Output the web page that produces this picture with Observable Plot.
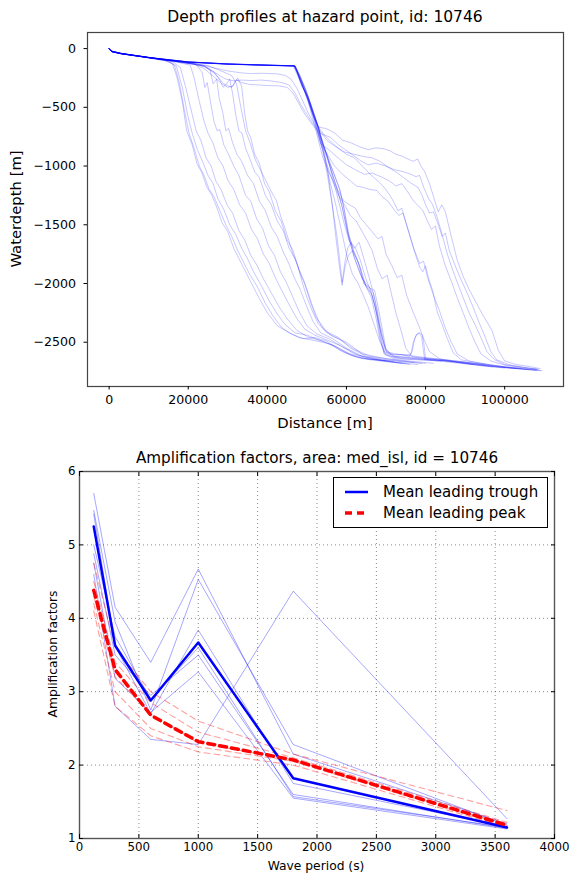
<!DOCTYPE html>
<html><head><meta charset="utf-8">
<script src="https://cdn.jsdelivr.net/npm/d3@7"></script>
<script src="https://cdn.jsdelivr.net/npm/@observablehq/plot@0.6"></script>
<style>
body{margin:0;background:#fff;}
#wrap{position:relative;width:570px;height:875px;font-family:"DejaVu Sans",sans-serif;color:#000;overflow:hidden;}
.abs{position:absolute;white-space:nowrap;line-height:1;transform:translate(-50%,-50%);}
.rot{transform:translate(-50%,-50%) rotate(-90deg);}
</style></head><body><div id="wrap"></div>
<script>
// ---------- Top chart: depth profiles (distance [m], depth [m]) ----------
const p01 = [[0,0],[600,-22],[3000,-42],[9000,-72],[14000,-100],[16000,-128],[17200,-250],[18500,-450],[19600,-700],[21000,-820],[22200,-980],[23500,-1060],[24700,-1180],[26000,-1250],[27200,-1350],[28500,-1480],[30000,-1560],[31500,-1700],[33000,-1800],[34500,-1900],[36000,-2000],[38000,-2130],[40000,-2250],[42500,-2360],[45000,-2410],[48000,-2460],[51000,-2480],[54000,-2500],[57000,-2530],[60000,-2590],[63000,-2630],[66000,-2645],[70000,-2660]];
const p02 = [[0,-5],[700,-28],[3000,-45],[9000,-75],[14500,-105],[16500,-140],[17800,-300],[19000,-520],[20200,-720],[21500,-850],[22800,-1000],[24000,-1080],[25300,-1200],[26500,-1260],[28000,-1380],[29500,-1500],[31000,-1600],[32500,-1720],[34000,-1820],[35500,-1920],[37500,-2030],[39500,-2170],[41500,-2280],[43500,-2370],[46000,-2430],[49000,-2470],[52000,-2460],[55000,-2490],[58000,-2560],[61000,-2610],[64000,-2640],[68000,-2650],[72000,-2665]];
const p03 = [[0,0],[500,-20],[3000,-40],[9000,-70],[15000,-105],[17000,-150],[18500,-330],[19800,-560],[21000,-720],[22300,-860],[23600,-960],[25000,-1080],[26300,-1150],[27500,-1280],[29000,-1370],[30500,-1500],[32000,-1580],[33500,-1700],[35000,-1790],[36500,-1900],[38500,-2020],[40500,-2150],[42500,-2260],[44500,-2350],[47000,-2420],[50000,-2440],[53000,-2480],[56000,-2520],[59000,-2580],[62000,-2620],[66000,-2650],[71000,-2670],[75000,-2680]];
const p04 = [[0,-3],[800,-30],[3000,-44],[10000,-78],[16000,-112],[18000,-160],[19500,-350],[21000,-560],[22000,-700],[23200,-780],[24500,-930],[25800,-1000],[27000,-1130],[28300,-1200],[29800,-1330],[31200,-1400],[32800,-1550],[34300,-1630],[35800,-1760],[37300,-1840],[39000,-1960],[41000,-2080],[43000,-2200],[45000,-2300],[47500,-2400],[50500,-2460],[54000,-2490],[57500,-2540],[61000,-2600],[65000,-2640],[70000,-2660],[76000,-2690]];
const p05 = [[0,0],[600,-24],[3000,-42],[10000,-76],[17000,-115],[20500,-140],[21500,-250],[22800,-450],[24000,-620],[25000,-720],[26200,-800],[27500,-930],[28800,-1000],[30000,-1120],[31500,-1200],[33000,-1330],[34500,-1400],[36000,-1540],[37500,-1620],[39000,-1750],[40500,-1830],[42000,-1950],[43500,-2050],[45500,-2180],[47500,-2300],[49500,-2390],[52000,-2440],[55000,-2480],[58500,-2530],[62000,-2600],[66000,-2640],[72000,-2670],[78000,-2690]];
const p06 = [[0,-4],[700,-26],[3000,-43],[10000,-78],[17000,-112],[22000,-135],[23500,-200],[24200,-330],[24800,-290],[25600,-450],[26500,-620],[27300,-700],[28000,-690],[29000,-820],[30200,-900],[31500,-1000],[32800,-1080],[34500,-1250],[35800,-1300],[37300,-1450],[38800,-1530],[40300,-1680],[41800,-1760],[43300,-1900],[44800,-1990],[46500,-2120],[48200,-2250],[50000,-2360],[52500,-2430],[55500,-2470],[59000,-2540],[63000,-2610],[68000,-2650],[74000,-2680]];
const p07 = [[0,0],[500,-20],[3000,-41],[10000,-76],[18000,-115],[24000,-145],[25500,-180],[26300,-300],[27200,-260],[27800,-420],[28700,-540],[29500,-700],[30200,-680],[31200,-800],[32300,-900],[33500,-960],[35000,-1080],[36500,-1150],[38000,-1300],[39500,-1380],[41000,-1520],[42500,-1600],[44000,-1730],[45300,-1820],[46800,-1950],[48300,-2050],[50000,-2200],[51500,-2320],[53500,-2420],[56500,-2470],[60000,-2550],[64000,-2620],[69000,-2650],[75000,-2670],[80000,-2680]];
const p08 = [[0,-2],[800,-28],[3000,-44],[10000,-77],[18000,-115],[24000,-150],[26500,-200],[28000,-270],[28800,-330],[29700,-300],[30500,-260],[31200,-380],[32000,-560],[32800,-700],[33600,-720],[34500,-850],[35500,-930],[36800,-1050],[38000,-1100],[39500,-1250],[41000,-1330],[42500,-1470],[44000,-1550],[45500,-1700],[47000,-1790],[48500,-1930],[50000,-2050],[51500,-2200],[53000,-2320],[55000,-2410],[58000,-2460],[61000,-2550],[65000,-2620],[70000,-2650],[77000,-2670]];
const p09 = [[0,0],[600,-22],[3000,-40],[10000,-75],[18000,-113],[24000,-150],[27000,-220],[29000,-300],[31000,-330],[32500,-250],[33500,-320],[34300,-560],[35000,-700],[35800,-760],[36800,-900],[38000,-980],[39300,-1150],[40500,-1220],[42000,-1380],[43500,-1470],[45000,-1630],[46500,-1720],[48000,-1880],[49300,-1980],[50800,-2150],[52200,-2280],[54000,-2380],[56500,-2450],[60000,-2500],[64000,-2600],[70000,-2640],[76000,-2660],[82000,-2680]];
const p10 = [[0,-4],[700,-26],[3000,-43],[10000,-76],[18000,-114],[25000,-145],[29000,-200],[31000,-230],[32200,-300],[33300,-500],[34500,-700],[35600,-800],[37000,-950],[38500,-1050],[40000,-1150],[41500,-1250],[42300,-1293],[43300,-1420],[44100,-1497],[45300,-1620],[46500,-1750],[47700,-1850],[48800,-1988],[50000,-2120],[51300,-2230],[52800,-2340],[55000,-2420],[58000,-2470],[62000,-2560],[66000,-2620],[72000,-2650],[79000,-2680]];
const b01 = [[0,0],[600,-24],[3000,-42],[10000,-76],[20000,-114],[30000,-131],[40000,-141],[47000,-147],[47800,-230],[48800,-330],[50400,-414],[51500,-560],[52900,-669],[54300,-830],[55900,-981],[57200,-1100],[58400,-1208],[59500,-1380],[60700,-1600],[62000,-1750],[63500,-1860],[64400,-2002],[66000,-2040],[67100,-2059],[68000,-2200],[69000,-2377],[69900,-2548],[71000,-2600],[75000,-2610],[80000,-2630],[85000,-2650],[90000,-2670],[95000,-2690],[100000,-2710],[104000,-2725],[108000,-2735]];
const b02 = [[0,-3],[800,-28],[3000,-44],[10000,-78],[20000,-116],[30000,-133],[40000,-143],[46800,-149],[47600,-200],[48500,-300],[50000,-400],[51200,-520],[52700,-660],[54000,-800],[55500,-950],[57000,-1080],[58200,-1190],[59200,-1330],[60300,-1550],[61600,-1700],[63000,-1820],[64000,-1960],[65500,-2020],[66800,-2080],[67800,-2250],[68700,-2450],[69600,-2580],[72000,-2620],[77000,-2630],[82000,-2640],[88000,-2660],[94000,-2690],[100000,-2715],[106000,-2735],[109000,-2742]];
const b03 = [[0,0],[500,-20],[3000,-40],[10000,-74],[20000,-113],[30000,-130],[40000,-140],[46500,-146],[47500,-220],[49000,-330],[51000,-470],[52900,-669],[54200,-850],[55300,-1050],[56300,-1300],[57300,-1600],[58200,-1850],[58900,-2016],[59700,-1850],[60500,-1760],[61500,-1720],[62500,-1780],[63800,-1900],[65000,-2030],[66300,-2120],[67500,-2300],[68500,-2480],[69500,-2590],[72000,-2630],[78000,-2640],[84000,-2655],[90000,-2670],[95000,-2690]];
const b04 = [[0,-4],[700,-26],[3000,-43],[10000,-77],[20000,-115],[30000,-132],[40000,-142],[47000,-148],[48000,-210],[49500,-330],[51200,-500],[52900,-669],[54800,-680],[56000,-700],[57300,-726],[59000,-780],[61000,-800],[63500,-839],[65500,-860],[67500,-845],[69400,-853],[71000,-870],[72500,-900],[74000,-915],[75300,-936],[76800,-960],[78000,-940],[78700,-993],[79800,-1050],[81000,-1150],[82000,-1260],[83200,-1390],[84100,-1330],[85000,-1390],[86500,-1600],[88000,-1800],[89500,-1940],[91000,-2050],[92500,-2145],[94500,-2270],[96800,-2400],[98400,-2570],[100000,-2660],[103000,-2690],[106000,-2705],[109000,-2725]];
const b05 = [[0,0],[600,-23],[3000,-42],[10000,-76],[20000,-114],[30000,-131],[40000,-141],[46800,-147],[48000,-230],[49800,-360],[51500,-530],[53300,-720],[54700,-740],[55900,-754],[58000,-820],[60500,-880],[63500,-953],[65500,-990],[67500,-975],[70000,-1000],[72000,-1030],[74000,-1045],[76100,-1067],[77500,-1090],[78500,-1080],[79500,-1180],[80800,-1280],[81800,-1330],[82900,-1434],[84000,-1560],[85500,-1750],[86800,-1880],[88000,-1990],[89500,-2120],[91000,-2250],[92500,-2350],[94000,-2460],[95500,-2580],[97500,-2650],[100000,-2690],[104000,-2710],[108500,-2730]];
const b06 = [[0,-2],[800,-28],[3000,-44],[10000,-78],[20000,-116],[30000,-133],[40000,-143],[47000,-149],[48300,-250],[50000,-400],[51800,-600],[53500,-811],[55500,-860],[57500,-920],[60000,-990],[62600,-1038],[64500,-1070],[66500,-1060],[69000,-1095],[71000,-1130],[72500,-1170],[74000,-1150],[75500,-1220],[77000,-1300],[78200,-1340],[79300,-1378],[80500,-1470],[81500,-1540],[82500,-1510],[83500,-1680],[85000,-1850],[86500,-1980],[88000,-2120],[89500,-2250],[91000,-2380],[92500,-2500],[94000,-2600],[96500,-2660],[100000,-2695],[105000,-2720],[108000,-2730]];
const b07 = [[0,0],[500,-20],[3000,-41],[10000,-75],[20000,-113],[30000,-131],[40000,-141],[47000,-147],[48500,-260],[50300,-420],[52300,-640],[54000,-839],[55500,-920],[57000,-1000],[59000,-1070],[60900,-1123],[62500,-1170],[64000,-1180],[66000,-1200],[67700,-1208],[69000,-1260],[70500,-1300],[72000,-1370],[73200,-1420],[74300,-1400],[75500,-1530],[77000,-1700],[78500,-1830],[79500,-1810],[80500,-1950],[82000,-2100],[83500,-2230],[85000,-2380],[86500,-2500],[88000,-2600],[91000,-2660],[96000,-2690],[101000,-2715],[106000,-2730]];
const b08 = [[0,-3],[700,-25],[3000,-43],[10000,-77],[20000,-115],[30000,-132],[40000,-142],[46800,-148],[48500,-280],[50300,-450],[52300,-700],[54000,-924],[55500,-1050],[57000,-1150],[59200,-1294],[60800,-1330],[62300,-1360],[63500,-1440],[65000,-1500],[66500,-1560],[68000,-1620],[69000,-1600],[70000,-1750],[71500,-1850],[72800,-1950],[74000,-1930],[75200,-2100],[76800,-2240],[78300,-2360],[79500,-2470],[81000,-2580],[83500,-2640],[88000,-2670],[94000,-2700],[100000,-2720]];
const b09 = [[0,0],[600,-23],[3000,-42],[10000,-76],[18000,-112],[22000,-130],[25000,-165],[27500,-220],[29500,-260],[31500,-275],[33500,-268],[36000,-272],[38500,-268],[41000,-276],[43500,-288],[45500,-310],[47000,-380],[48500,-480],[50000,-560],[51500,-640],[52900,-700],[54300,-900],[55800,-1130],[57300,-1330],[58800,-1560],[60200,-1780],[61500,-1920],[62800,-1990],[64000,-2080],[65500,-2200],[67000,-2350],[68500,-2500],[70000,-2610],[74000,-2640],[80000,-2650],[86000,-2670],[92000,-2690],[97000,-2710]];
const b10 = [[0,-4],[700,-26],[3000,-43],[10000,-77],[18000,-113],[22000,-128],[26000,-160],[30000,-190],[33000,-205],[35600,-213],[38500,-210],[42400,-215],[44500,-228],[46000,-260],[47500,-340],[49000,-450],[50500,-560],[52000,-650],[53500,-760],[55000,-900],[56500,-1100],[58000,-1300],[59500,-1500],[60700,-1640],[62000,-1700],[63200,-1650],[64500,-1800],[66000,-1980],[67300,-2150],[68500,-2350],[69800,-2560],[72000,-2620],[78000,-2640],[85000,-2660],[92000,-2690]];
const b11 = [[0,-2],[500,-21],[3000,-41],[10000,-75],[17000,-108],[21000,-125],[24000,-170],[26500,-240],[28500,-300],[30000,-330],[31200,-320],[32200,-265],[33500,-290],[35500,-305],[38000,-310],[40500,-315],[43000,-318],[45000,-330],[46500,-380],[48000,-470],[49500,-560],[51000,-630],[52500,-700],[54000,-870],[55300,-1100],[56500,-1350],[57600,-1600],[58300,-1800],[58900,-1990],[59600,-1820],[60300,-1700],[61200,-1650],[62300,-1700],[63500,-1800],[64800,-1950],[66000,-2050],[67300,-2200],[68500,-2450],[69500,-2600],[72000,-2640],[78000,-2650],[84000,-2660]];
const b12 = [[0,0],[700,-25],[3000,-43],[10000,-77],[20000,-115],[30000,-132],[40000,-142],[47000,-148],[48200,-260],[49800,-390],[51500,-540],[53000,-690],[54500,-860],[56000,-1020],[57500,-1180],[59000,-1360],[60500,-1600],[62000,-1780],[63500,-1920],[65000,-2030],[66500,-2100],[67800,-2280],[69000,-2460],[70300,-2590],[72000,-2610],[74000,-2605],[76000,-2620],[76600,-2580],[77200,-2480],[77800,-2430],[78600,-2418],[79200,-2440],[79600,-2520],[80000,-2640],[83000,-2650],[88000,-2670],[93000,-2690],[98000,-2710],[103000,-2725],[107000,-2735],[109400,-2742]];
const b13 = [[0,-3],[600,-24],[3000,-42],[10000,-76],[20000,-114],[30000,-131],[40000,-141],[46800,-147],[48000,-240],[49500,-370],[51300,-520],[52800,-680],[54200,-840],[55800,-1000],[57300,-1160],[58800,-1330],[60300,-1570],[61800,-1760],[63300,-1900],[64800,-2010],[66300,-2080],[67600,-2250],[68800,-2430],[70000,-2580],[72500,-2600],[75000,-2610],[76300,-2600],[76900,-2500],[77600,-2440],[78400,-2425],[79000,-2450],[79400,-2560],[79800,-2650],[84000,-2655],[90000,-2675],[96000,-2700],[102000,-2720],[108000,-2738]];
const b14 = [[0,-1],[500,-21],[3000,-41],[10000,-75],[20000,-113],[30000,-130],[40000,-140],[46700,-146],[48000,-240],[49800,-400],[51500,-560],[52900,-669],[54500,-740],[56000,-790],[58000,-850],[60000,-900],[62000,-930],[64000,-1000],[66000,-1070],[68000,-1130],[69500,-1180],[71000,-1250],[72200,-1320],[73000,-1380],[74000,-1360],[75000,-1480],[76500,-1650],[77500,-1760],[78500,-1860],[79300,-1900],[80000,-1850],[80800,-1960],[81800,-2060],[83000,-2250],[84200,-2350],[85500,-2470],[87000,-2590],[89000,-2650],[94000,-2680],[99000,-2705],[104000,-2720]];
const b15 = [[0,-2],[800,-27],[3000,-44],[10000,-78],[20000,-116],[30000,-133],[40000,-143],[47000,-149],[48300,-240],[50000,-380],[51800,-560],[53300,-700],[55000,-780],[57000,-830],[59500,-880],[62000,-900],[64500,-920],[66500,-930],[68500,-960],[70500,-1010],[72500,-1050],[74500,-1100],[76500,-1150],[78000,-1180],[79000,-1240],[80000,-1330],[81000,-1400],[82000,-1390],[83000,-1480],[84200,-1600],[85000,-1570],[86000,-1720],[87500,-1850],[89000,-1970],[90500,-2080],[92000,-2200],[93500,-2330],[95000,-2450],[96500,-2580],[98000,-2650],[101000,-2690],[105000,-2715],[108500,-2732]];
const b16 = [[0,0],[600,-22],[3000,-42],[10000,-76],[20000,-114],[30000,-131],[40000,-141],[47000,-147],[48500,-270],[50200,-430],[52000,-620],[53500,-800],[55000,-980],[56500,-1130],[58000,-1250],[59500,-1330],[61000,-1420],[62500,-1470],[64000,-1560],[65300,-1640],[66500,-1720],[67800,-1870],[69000,-1960],[70300,-1930],[71300,-2080],[72500,-2250],[73800,-2400],[75000,-2550],[76500,-2620],[80000,-2640],[86000,-2660],[92000,-2690],[98000,-2710],[103000,-2725]];
const profiles = [p01,p02,p03,p04,p05,p06,p07,p08,p09,p10,b01,b02,b03,b04,b05,b06,b07,b08,b09,b10,b11,b12,b13,b14,b15,b16];
const xTicksTop = [0, 20000, 40000, 60000, 80000, 100000];
const yTicksTop = [0, -500, -1000, -1500, -2000, -2500];

// ---------- Bottom chart: amplification factors ----------
const periods = [120, 300, 600, 1000, 1800, 3600];
const troughLines = [
  [5.70, 4.15, 3.40, 4.67, 2.15, 1.20],
  [5.47, 3.95, 2.75, 4.53, 2.28, 1.18],
  [5.42, 3.62, 2.70, 3.84, 1.75, 1.16],
  [4.88, 3.50, 2.95, 3.50, 1.60, 1.14],
  [4.75, 3.18, 2.72, 3.27, 1.55, 1.13],
  [4.60, 2.80, 2.35, 2.28, 4.37, 1.27],
  [5.00, 3.75, 2.90, 3.60, 1.57, 1.15]
];
const peakLines = [
  [4.75, 3.60, 3.00, 2.60, 2.15, 1.38],
  [4.50, 3.40, 2.85, 2.45, 2.10, 1.22],
  [4.30, 3.20, 2.70, 2.30, 2.07, 1.18],
  [4.20, 3.00, 2.50, 2.25, 2.05, 1.16],
  [4.10, 2.80, 2.40, 2.18, 2.00, 1.15]
];
const meanTrough = [5.25, 3.63, 2.88, 3.67, 1.82, 1.15];
const meanPeak = [4.38, 3.30, 2.68, 2.32, 2.07, 1.18];
const xTicksBot = [0, 500, 1000, 1500, 2000, 2500, 3000, 3500, 4000];
const yTicksBot = [1, 2, 3, 4, 5, 6];
const xGridBot = [500, 1000, 1500, 2000, 2500, 3000, 3500];
const yGridBot = [2, 3, 4, 5];
const legendLabels = ["Mean leading trough", "Mean leading peak"];

const fmt = d => String(d).replace("-", "\u2212");
const wrap = document.getElementById("wrap");

const profileRows = profiles.flatMap((p, i) => p.map(([d, z]) => ({id: i, d, z})));
const topPlot = Plot.plot({
  width: 570, height: 430,
  marginLeft: 87, marginRight: 7, marginTop: 32, marginBottom: 44,
  x: {domain: [-5470, 114870]},
  y: {domain: [-2877, 137]},
  style: {fontFamily: "DejaVu Sans, sans-serif", fontSize: "12.6px", color: "#000", background: "transparent", overflow: "visible"},
  marks: [
    Plot.line(profileRows, {x: "d", y: "z", z: "id", stroke: "#0000ff", strokeOpacity: 0.22, strokeWidth: 1}),
    Plot.frame({stroke: "#444", strokeWidth: 1.2}),
    Plot.axisX({ticks: xTicksTop, tickSize: 3.5, tickPadding: 5, tickFormat: fmt, label: null}),
    Plot.axisY({ticks: yTicksTop, tickSize: 3.5, tickPadding: 8, tickFormat: fmt, label: null})
  ]
});
topPlot.style.position = "absolute"; topPlot.style.left = "0px"; topPlot.style.top = "0px";
wrap.appendChild(topPlot);

const rowsOf = (lines) => lines.flatMap((vals, i) => vals.map((v, j) => ({id: i, period: periods[j], amp: v})));
const troughRows = rowsOf(troughLines);
const peakRows = rowsOf(peakLines);
const meanTroughRows = rowsOf([meanTrough]);
const meanPeakRows = rowsOf([meanPeak]);

const botPlot = Plot.plot({
  width: 570, height: 435,
  marginLeft: 79, marginRight: 16, marginTop: 31, marginBottom: 37,
  x: {domain: [0, 4000]},
  y: {domain: [1, 6]},
  style: {fontFamily: "DejaVu Sans, sans-serif", fontSize: "11.8px", color: "#000", background: "transparent", overflow: "visible"},
  marks: [
    Plot.gridX(xGridBot, {stroke: "#000", strokeOpacity: 0.45, strokeDasharray: "1,3"}),
    Plot.gridY(yGridBot, {stroke: "#000", strokeOpacity: 0.45, strokeDasharray: "1,3"}),
    Plot.line(troughRows, {x: "period", y: "amp", z: "id", stroke: "#0000ff", strokeOpacity: 0.35, strokeWidth: 1}),
    Plot.line(peakRows, {x: "period", y: "amp", z: "id", stroke: "#ff0000", strokeOpacity: 0.38, strokeWidth: 1.1, strokeDasharray: "6,4"}),
    Plot.line(meanTroughRows, {x: "period", y: "amp", stroke: "#0000ff", strokeWidth: 2.5}),
    Plot.line(meanPeakRows, {x: "period", y: "amp", stroke: "#ff0000", strokeWidth: 3.5, strokeDasharray: "7,5"}),
    Plot.frame({stroke: "#555", strokeWidth: 1.4}),
    Plot.axisX({ticks: xTicksBot, tickSize: -4, tickPadding: 8, tickFormat: fmt, label: null}),
    Plot.axisX({anchor: "top", ticks: xTicksBot, tickSize: -4, tickFormat: () => "", label: null}),
    Plot.axisY({ticks: yTicksBot, tickSize: -4, tickPadding: 8, tickFormat: fmt, label: null}),
    Plot.axisY({anchor: "right", ticks: yTicksBot, tickSize: -4, tickFormat: () => "", label: null})
  ]
});
botPlot.style.position = "absolute"; botPlot.style.left = "0px"; botPlot.style.top = "440px";
wrap.appendChild(botPlot);

function addText(txt, x, y, size, rot) {
  const el = document.createElement("div");
  el.className = "abs" + (rot ? " rot" : "");
  el.style.left = x + "px"; el.style.top = y + "px"; el.style.fontSize = size + "px";
  el.textContent = txt;
  wrap.appendChild(el);
}
addText("Depth profiles at hazard point, id: 10746", 325, 18, 15.5);
addText("Distance [m]", 325, 423, 14.8);
addText("Waterdepth [m]", 16, 209, 14.8, true);
addText("Amplification factors, area: med_isl, id = 10746", 317, 459, 15.2);
addText("Wave period (s)", 316, 866, 12.3);
addText("Amplification factors", 53, 654, 12.3, true);

// legend
const leg = document.createElement("div");
leg.style.cssText = "position:absolute;left:333px;top:477px;width:213px;height:49px;border:1px solid #000;background:#fff;font-size:15px;";
leg.innerHTML = `<svg width="40" height="49" style="position:absolute;left:0;top:0">
<line x1="11" x2="34" y1="14" y2="14" stroke="#0000ff" stroke-width="2.5"/>
<line x1="11" x2="34" y1="35" y2="35" stroke="#ff0000" stroke-width="3.5" stroke-dasharray="7,5"/></svg>
<div style="position:absolute;left:49px;top:14px;transform:translateY(-50%);white-space:nowrap;line-height:1">${legendLabels[0]}</div>
<div style="position:absolute;left:49px;top:35px;transform:translateY(-50%);white-space:nowrap;line-height:1">${legendLabels[1]}</div>`;
wrap.appendChild(leg);
</script></body></html>
